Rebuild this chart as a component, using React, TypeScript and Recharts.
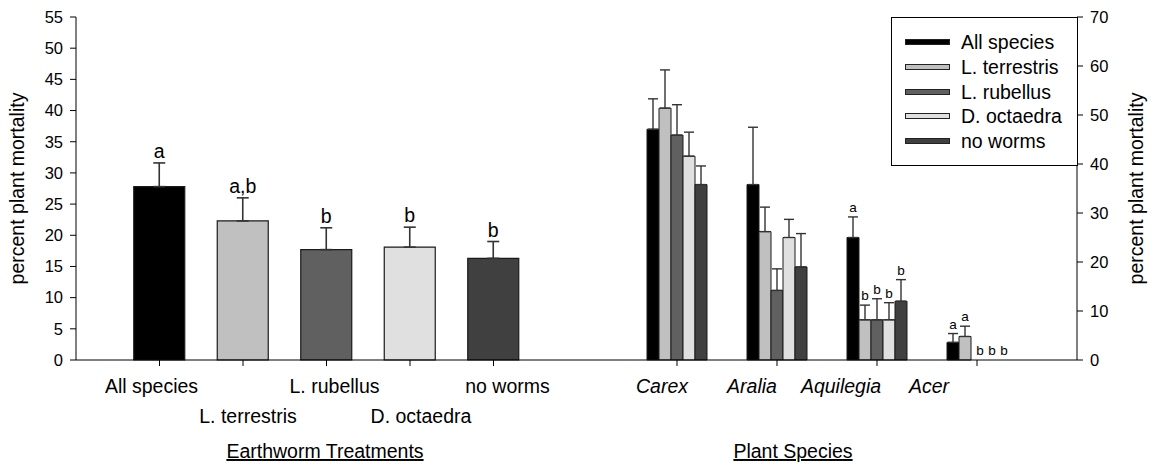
import { BarChart, Bar, XAxis, YAxis, ErrorBar, LabelList, Legend, Cell } from 'recharts';

const FONT = '"Liberation Sans", Arial, Helvetica, sans-serif';

// Left panel: mortality by earthworm treatment (all plants pooled)
const treatments = ['All species', 'L. terrestris', 'L. rubellus', 'D. octaedra', 'no worms'];
const treatmentMean = [27.8, 22.3, 17.7, 18.1, 16.3];
const treatmentErr = [3.8, 3.7, 3.5, 3.2, 2.7];
const treatmentLetters = ['a', 'a,b', 'b', 'b', 'b'];
const treatmentColors = ['#000000', '#c0c0c0', '#606060', '#e0e0e0', '#404040'];
const leftTicks = [0, 5, 10, 15, 20, 25, 30, 35, 40, 45, 50, 55];

// Right panel: mortality by plant species, one bar per treatment
const plants = ['Carex', 'Aralia', 'Aquilegia', 'Acer'];
const allSpecies = [47.1, 35.8, 25.0, 3.6];
const allSpeciesErr = [6.2, 11.7, 4.2, 1.8];
const allSpeciesLetters = ['', '', 'a', 'a'];
const lTerrestris = [51.4, 26.2, 8.2, 4.8];
const lTerrestrisErr = [7.8, 5.0, 3.0, 2.1];
const lTerrestrisLetters = ['', '', 'b', 'a'];
const lRubellus = [45.9, 14.2, 8.2, 0];
const lRubellusErr = [6.2, 4.4, 4.3, 0];
const lRubellusLetters = ['', '', 'b', 'b'];
const dOctaedra = [41.6, 25.0, 8.2, 0];
const dOctaedraErr = [4.9, 3.7, 3.5, 0];
const dOctaedraLetters = ['', '', 'b', 'b'];
const noWorms = [35.8, 19.0, 12.0, 0];
const noWormsErr = [3.8, 6.8, 4.4, 0];
const noWormsLetters = ['', '', 'b', 'b'];
const rightTicks = [0, 10, 20, 30, 40, 50, 60, 70];

// horizontal nudges for the category labels (they sit off their tick marks)
const leftLabelShift = [-8, 5, 8, 11, 14];
const rightLabelShift = [-15, -25, -36, -48];

const rightSeries = [
  { key: 'all', name: treatments[0], mean: allSpecies, err: allSpeciesErr, letters: allSpeciesLetters, color: treatmentColors[0] },
  { key: 'lter', name: treatments[1], mean: lTerrestris, err: lTerrestrisErr, letters: lTerrestrisLetters, color: treatmentColors[1] },
  { key: 'lrub', name: treatments[2], mean: lRubellus, err: lRubellusErr, letters: lRubellusLetters, color: treatmentColors[2] },
  { key: 'doct', name: treatments[3], mean: dOctaedra, err: dOctaedraErr, letters: dOctaedraLetters, color: treatmentColors[3] },
  { key: 'none', name: treatments[4], mean: noWorms, err: noWormsErr, letters: noWormsLetters, color: treatmentColors[4] },
];

const leftData = treatments.map((name, i) => ({
  name,
  mean: treatmentMean[i],
  err: [0, treatmentErr[i]],
  letter: treatmentLetters[i],
}));

const rightData = plants.map((name, j) => {
  const row: Record<string, any> = { name };
  rightSeries.forEach((s) => {
    row[s.key] = s.mean[j];
    row[s.key + 'Err'] = s.err[j] ? [0, s.err[j]] : null;
    row[s.key + 'Letter'] = s.letters[j];
  });
  return row;
});

const AXIS = { stroke: '#000', strokeWidth: 1 };

// significance letter sitting just above the top of the error bar
function makeLetter(means: number[], errs: number[], fontSize: number, lift: number, zeroShift = 0) {
  return (props: any) => {
    const vb = props.viewBox ?? props;
    const { index, value } = props;
    if (!value) return null;
    const top = Math.min(vb.y, vb.y + vb.height);
    const h = Math.abs(vb.height);
    const mean = means[index];
    const errTop = mean > 0 ? top - (errs[index] * h) / mean : top;
    return (
      <text
        x={vb.x + vb.width / 2 + (mean > 0 ? 0 : zeroShift)}
        y={errTop - lift}
        textAnchor="middle"
        fontSize={fontSize}
        fontFamily={FONT}
        fill="#000"
      >
        {value}
      </text>
    );
  };
}

const StaggerTick = (props: any) => {
  const { x, y, payload, index } = props;
  return (
    <text
      x={x + leftLabelShift[index]}
      y={y + (index % 2 ? 57 : 26.5)}
      textAnchor="middle"
      fontSize={19.5}
      fontFamily={FONT}
      fill="#000"
    >
      {payload.value}
    </text>
  );
};

const ItalicTick = (props: any) => {
  const { x, y, payload, index } = props;
  return (
    <text
      x={x + rightLabelShift[index]}
      y={y + 27}
      textAnchor="middle"
      fontSize={19.5}
      fontStyle="italic"
      fontFamily={FONT}
      fill="#000"
    >
      {payload.value}
    </text>
  );
};

const axisTitle = (text: string, dx: number) => (props: any) => {
  const vb = props.viewBox;
  return (
    <text
      x={vb.x + vb.width / 2 + dx}
      y={vb.y + 98}
      textAnchor="middle"
      fontSize={19.5}
      fontFamily={FONT}
      fill="#000"
      style={{ textDecoration: 'underline' }}
    >
      {text}
    </text>
  );
};

const yTitle = (dx: number) => (props: any) => {
  const vb = props.viewBox;
  const x = vb.x + dx;
  const y = vb.y + vb.height / 2;
  return (
    <text x={x} y={y} transform={`rotate(-90 ${x} ${y})`} textAnchor="middle" fontSize={19.5} fontFamily={FONT} fill="#000">
      percent plant mortality
    </text>
  );
};

const LegendBox = () => (
  <div
    style={{
      width: 187,
      height: 149,
      border: '1px solid #000',
      boxSizing: 'border-box',
      background: '#fff',
      position: 'relative',
      fontFamily: FONT,
    }}
  >
    {rightSeries.map((s, i) => (
      <div
        key={s.key}
        style={{
          position: 'absolute',
          left: 13,
          top: 24.3 - 12 + i * 24.6,
          height: 24,
          display: 'flex',
          alignItems: 'center',
          whiteSpace: 'nowrap',
        }}
      >
        <span
          style={{
            display: 'inline-block',
            width: 45,
            height: 6,
            background: s.color,
            border: '1px solid #222',
            boxSizing: 'border-box',
          }}
        />
        <span style={{ marginLeft: 11, fontSize: 19.5, color: '#000', lineHeight: '24px' }}>{s.name}</span>
      </div>
    ))}
  </div>
);

export default function App() {
  return (
    <div style={{ position: 'absolute', left: 0, top: 0, width: 1152, height: 463, background: '#fff', fontFamily: FONT }}>
      <div style={{ position: 'absolute', left: 0, top: 0 }}>
        <BarChart width={590} height={463} data={leftData} margin={{ top: 17, right: 13, bottom: 0, left: 16 }} barSize={51}>
          <XAxis
            dataKey="name"
            padding={{ left: 41.75, right: 41.75 }}
            height={103}
            tickSize={6}
            tickMargin={0}
            tick={<StaggerTick />}
            interval={0}
            axisLine={AXIS}
            tickLine={AXIS}
            label={axisTitle('Earthworm Treatments', -1.5)}
          />
          <XAxis xAxisId="top" dataKey="name" orientation="top" height={0} tick={false} tickLine={false} axisLine={AXIS} />
          <YAxis
            width={60}
            domain={[0, 55]}
            ticks={leftTicks}
            interval={0}
            tickSize={6}
            tickMargin={7}
            tick={{ fontSize: 16.5, fill: '#000', fontFamily: FONT }}
            axisLine={AXIS}
            tickLine={AXIS}
            label={yTitle(8)}
          />
          <YAxis yAxisId="edge" orientation="right" width={0} domain={[0, 55]} tick={false} tickLine={false} axisLine={AXIS} />
          <Bar dataKey="mean" stroke="#1a1a1a" strokeWidth={1.2} isAnimationActive={false}>
            {leftData.map((d, i) => (
              <Cell key={d.name} fill={treatmentColors[i]} />
            ))}
            <ErrorBar dataKey="err" width={6} stroke="#333" strokeWidth={1.6} direction="y" />
            <LabelList dataKey="letter" content={makeLetter(treatmentMean, treatmentErr, 19.5, 5)} />
          </Bar>
        </BarChart>
      </div>
      <div style={{ position: 'absolute', left: 577, top: 0 }}>
        <BarChart width={575} height={463} data={rightData} margin={{ top: 17, right: 0, bottom: 0, left: 0 }} barSize={12} barGap={0}>
          <XAxis
            dataKey="name"
            padding={{ left: 50, right: 50 }}
            height={103}
            tickSize={6}
            tickMargin={0}
            tick={<ItalicTick />}
            interval={0}
            axisLine={AXIS}
            tickLine={AXIS}
            label={axisTitle('Plant Species', -34)}
          />
          <XAxis xAxisId="top" dataKey="name" orientation="top" height={0} tick={false} tickLine={false} axisLine={AXIS} />
          <YAxis
            orientation="right"
            width={75}
            domain={[0, 70]}
            ticks={rightTicks}
            interval={0}
            tickSize={6}
            tickMargin={7}
            tick={{ fontSize: 16.5, fill: '#000', fontFamily: FONT }}
            axisLine={AXIS}
            tickLine={AXIS}
            label={yTitle(66)}
          />
          <Legend
            layout="vertical"
            align="center"
            verticalAlign="middle"
            content={() => <LegendBox />}
            wrapperStyle={{ left: 314, top: 17, width: 187 }}
          />
          {rightSeries.map((s) => (
            <Bar
              key={s.key}
              dataKey={s.key}
              name={s.name}
              fill={s.color}
              stroke="#1a1a1a"
              strokeWidth={1}
              minPointSize={0.5}
              isAnimationActive={false}
            >
              {/* zero-mortality bars stay invisible but keep their letter */}
              {s.mean.map((v, j) => (
                <Cell key={plants[j]} fill={v > 0 ? s.color : 'none'} stroke={v > 0 ? '#1a1a1a' : 'none'} />
              ))}
              <ErrorBar dataKey={s.key + 'Err'} width={5} stroke="#333" strokeWidth={1.4} direction="y" />
              <LabelList dataKey={s.key + 'Letter'} content={makeLetter(s.mean, s.err, 13.5, 5, 3)} />
            </Bar>
          ))}
        </BarChart>
      </div>
    </div>
  );
}
